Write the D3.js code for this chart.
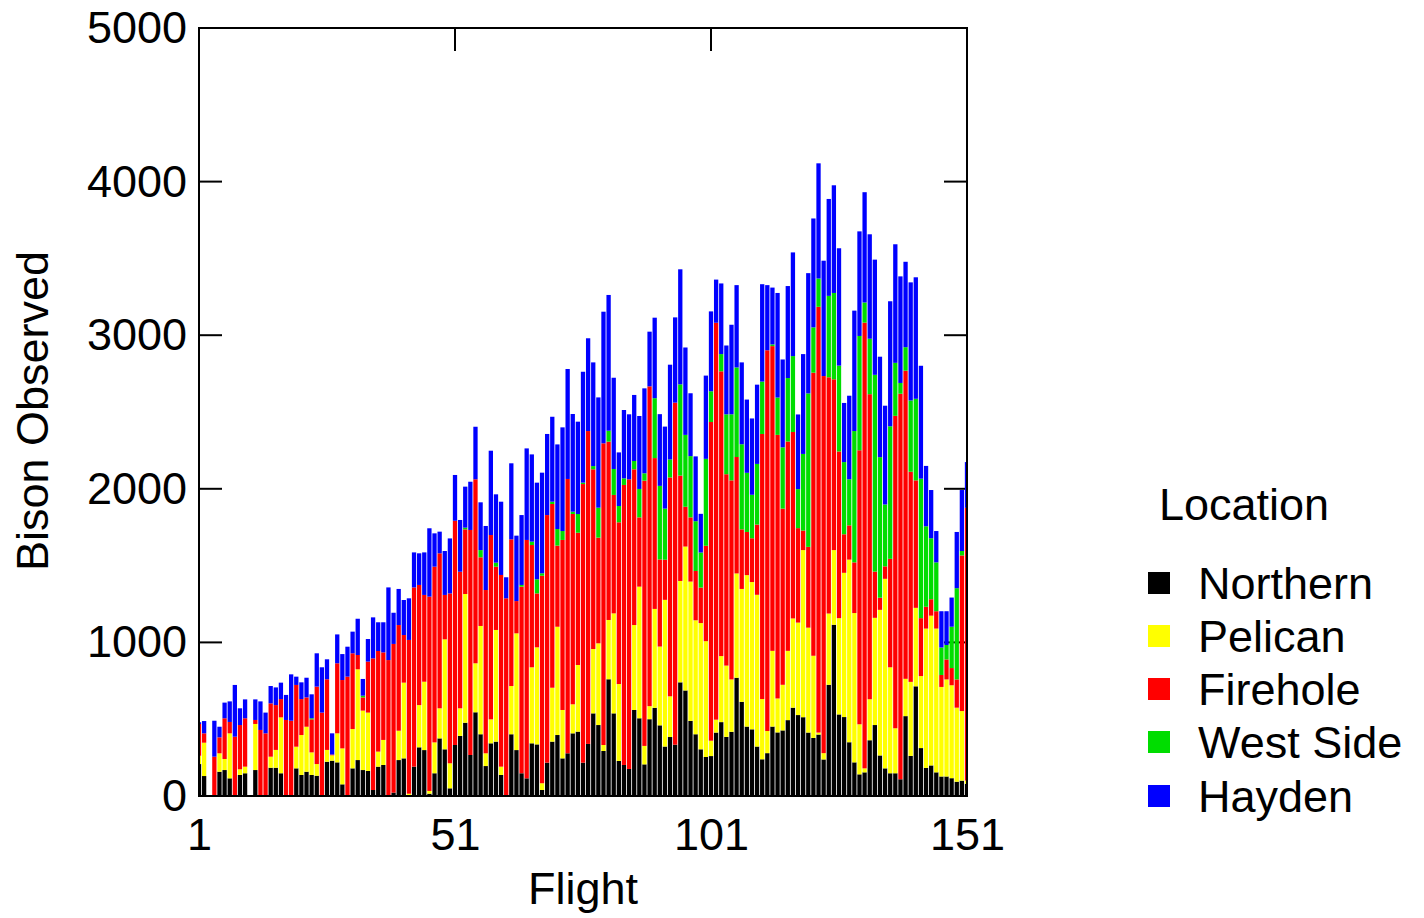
<!DOCTYPE html>
<html>
<head>
<meta charset="utf-8">
<script src="https://cdn.jsdelivr.net/npm/d3@7"></script>
<style>
  html, body { margin: 0; padding: 0; background: #ffffff; }
  svg text { font-family: "Liberation Sans", Arial, sans-serif; fill: #000; }
</style>
</head>
<body>
<svg id="chart" width="1424" height="918"></svg>
<script>
// ---------------- DATA ----------------
const locations = ["Northern", "Pelican", "Firehole", "West Side", "Hayden"];
const colors = ["#000000", "#ffff00", "#ff0000", "#00dd00", "#0000ff"];
const xTickLabels = [1, 51, 101, 151];
const yTickLabels = [0, 1000, 2000, 3000, 4000, 5000];

const northern = [208,130,0,0,158,169,115,0,137,148,0,169,0,0,184,184,148,0,0,180,
137,158,137,132,0,223,230,219,76,0,180,234,169,163,39,191,202,0,22,234,
245,0,191,317,299,15,148,375,304,50,332,391,477,267,545,402,195,343,354,137,
0,402,299,148,115,343,336,39,217,354,397,245,278,408,419,217,339,538,462,293,
760,538,228,202,176,560,506,206,500,574,460,322,384,334,740,687,489,402,304,254,
260,413,481,385,418,770,613,452,434,322,239,279,452,414,427,494,575,527,513,413,
378,400,238,724,1115,531,514,350,219,141,154,363,462,264,180,148,148,109,520,261,
714,312,183,199,154,127,127,116,93,100,80];

const pelican = [54,217,0,0,120,72,293,0,37,43,0,300,0,0,72,116,364,0,0,141,
260,293,147,76,0,77,35,189,234,0,256,591,387,380,0,98,163,0,0,191,
493,15,0,275,445,18,201,196,716,163,0,180,838,0,319,705,83,156,727,54,
0,314,760,0,0,495,632,44,0,351,705,315,0,189,434,0,0,419,532,39,
386,651,501,0,0,553,857,120,85,644,513,955,265,0,660,937,907,742,822,754,
100,84,430,464,341,679,735,986,959,988,392,144,493,221,297,451,581,602,1088,683,
535,13,41,464,486,627,939,1189,972,326,26,267,698,948,1234,690,293,0,243,482,
511,469,907,975,936,583,632,605,482,453,20];

const firehole = [207,61,0,256,104,265,74,386,288,315,0,26,430,408,347,292,119,495,490,402,
234,191,215,504,543,460,5,456,445,777,493,93,86,332,857,655,570,885,968,688,
310,1001,1167,782,565,1265,1144,1009,289,1106,1460,889,421,1465,1198,447,1063,1200,412,1248,
1287,955,210,1215,1552,796,351,1351,1612,1196,528,1107,1786,1239,861,1814,2037,1170,688,1964,
1161,771,1053,1823,1886,1014,451,1727,2082,982,567,261,1425,2227,686,259,418,321,231,621,
2075,2584,1854,1246,1296,758,388,281,285,457,1726,2479,1984,1716,1147,1363,1214,615,127,526,
1843,2772,2455,1538,1112,1085,251,223,330,1784,2902,1986,301,79,81,706,2034,2510,2006,1368,
830,377,142,107,113,78,130,112,184,1013,1776];

const westSide = [0,0,0,0,0,0,0,0,0,0,0,0,0,0,0,0,0,0,0,0,
0,0,7,0,0,0,0,0,0,0,0,0,11,0,0,0,0,0,0,0,
0,0,0,0,0,0,0,0,0,0,0,0,11,0,0,47,0,0,26,0,
0,0,0,11,0,22,92,16,0,15,108,58,0,15,122,9,0,21,195,0,
71,169,106,43,0,54,185,48,0,390,479,333,117,0,594,468,399,324,228,566,
200,0,112,390,430,583,554,385,283,395,341,0,11,243,399,413,494,254,499,999,
295,184,0,530,562,559,470,300,855,744,131,361,1281,915,403,863,345,70,153,464,
531,908,524,397,318,179,94,269,594,29,0];

const hayden = [11,80,0,234,69,102,134,337,109,123,0,134,186,135,113,115,107,163,302,54,
109,128,156,217,295,130,138,188,169,195,141,236,109,147,267,187,196,473,203,235,
228,271,228,206,277,445,217,141,286,358,298,337,267,314,342,311,417,549,445,477,
137,495,426,455,596,568,629,655,528,553,551,675,716,636,601,722,604,675,718,857,
884,594,349,445,423,430,475,553,356,524,467,534,617,555,749,569,409,422,252,542,
520,281,460,448,583,536,533,477,497,516,634,424,370,681,572,599,675,486,650,783,
709,750,751,631,701,764,385,544,784,681,718,680,750,654,643,814,772,694,556,769,
791,735,393,314,204,236,220,190,366,397,298];

const flights = d3.range(1, 152);

(function draw() {
  const svg = d3.select("#chart");
  const pL = 199, pR = 967, pT = 28, pB = 796;
  const fontSize = 45;

  const x = d3.scaleLinear().domain([1, 151]).range([pL, pR]);
  const y = d3.scaleLinear().domain([0, 5000]).range([pB, pT]);

  const series = [northern, pelican, firehole, westSide, hayden];
  const table = flights.map((f, i) => {
    const row = { flight: f };
    locations.forEach((k, j) => row[k] = series[j][i]);
    return row;
  });
  const stacked = d3.stack().keys(locations)(table);

  svg.append("defs").append("clipPath").attr("id", "plotClip")
    .append("rect").attr("x", pL).attr("y", pT)
    .attr("width", pR - pL).attr("height", pB - pT);

  // inward ticks (under bars)
  const tickLen = 23;
  const ticksG = svg.append("g").attr("stroke", "#000").attr("stroke-width", 2);
  yTickLabels.forEach(v => {
    ticksG.append("line").attr("x1", pL).attr("x2", pL + tickLen).attr("y1", y(v)).attr("y2", y(v));
    ticksG.append("line").attr("x1", pR).attr("x2", pR - tickLen).attr("y1", y(v)).attr("y2", y(v));
  });
  xTickLabels.forEach(v => {
    ticksG.append("line").attr("x1", x(v)).attr("x2", x(v)).attr("y1", pT).attr("y2", pT + tickLen);
    ticksG.append("line").attr("x1", x(v)).attr("x2", x(v)).attr("y1", pB).attr("y2", pB - tickLen);
  });

  // bars
  const step = x(2) - x(1);
  const bw = step * 0.84;
  const barsG = svg.append("g").attr("clip-path", "url(#plotClip)");
  stacked.forEach((s, j) => {
    barsG.append("g").attr("fill", colors[j])
      .selectAll("rect").data(s).join("rect")
      .attr("x", d => x(d.data.flight) - bw / 2)
      .attr("width", bw)
      .attr("y", d => y(d[1]))
      .attr("height", d => Math.max(0, y(d[0]) - y(d[1])));
  });

  // frame
  svg.append("rect").attr("x", pL).attr("y", pT)
    .attr("width", pR - pL).attr("height", pB - pT)
    .attr("fill", "none").attr("stroke", "#000").attr("stroke-width", 2);

  // tick labels via d3 axes
  const yAxis = d3.axisLeft(y).tickValues(yTickLabels).tickSize(0).tickPadding(12).tickFormat(d3.format("d"));
  const yg = svg.append("g").attr("transform", `translate(${pL},0)`).call(yAxis);
  yg.select(".domain").remove();
  yg.selectAll("text").attr("font-size", fontSize).attr("font-family", "Liberation Sans, Arial, sans-serif").attr("fill", "#000");

  const xAxis = d3.axisBottom(x).tickValues(xTickLabels).tickSize(0).tickPadding(22).tickFormat(d3.format("d"));
  const xg = svg.append("g").attr("transform", `translate(0,${pB})`).call(xAxis);
  xg.select(".domain").remove();
  xg.selectAll("text").attr("font-size", fontSize).attr("font-family", "Liberation Sans, Arial, sans-serif").attr("fill", "#000");

  // axis titles
  svg.append("text").attr("x", (pL + pR) / 2).attr("y", 904)
    .attr("text-anchor", "middle").attr("font-size", fontSize).text("Flight");
  svg.append("text").attr("transform", "translate(48,411) rotate(-90)")
    .attr("text-anchor", "middle").attr("font-size", fontSize).text("Bison Observed");

  // legend
  const legend = svg.append("g");
  legend.append("text").attr("x", 1159).attr("y", 504).attr("dy", "0.36em")
    .attr("font-size", fontSize).text("Location");
  const rowY = [583, 636, 689, 742, 796];
  locations.forEach((k, j) => {
    legend.append("rect").attr("x", 1148).attr("y", rowY[j] - 11).attr("width", 22).attr("height", 22)
      .attr("fill", colors[j]);
    legend.append("text").attr("x", 1198).attr("y", rowY[j]).attr("dy", "0.36em")
      .attr("font-size", fontSize).text(k);
  });
})();
</script>
</body>
</html>
